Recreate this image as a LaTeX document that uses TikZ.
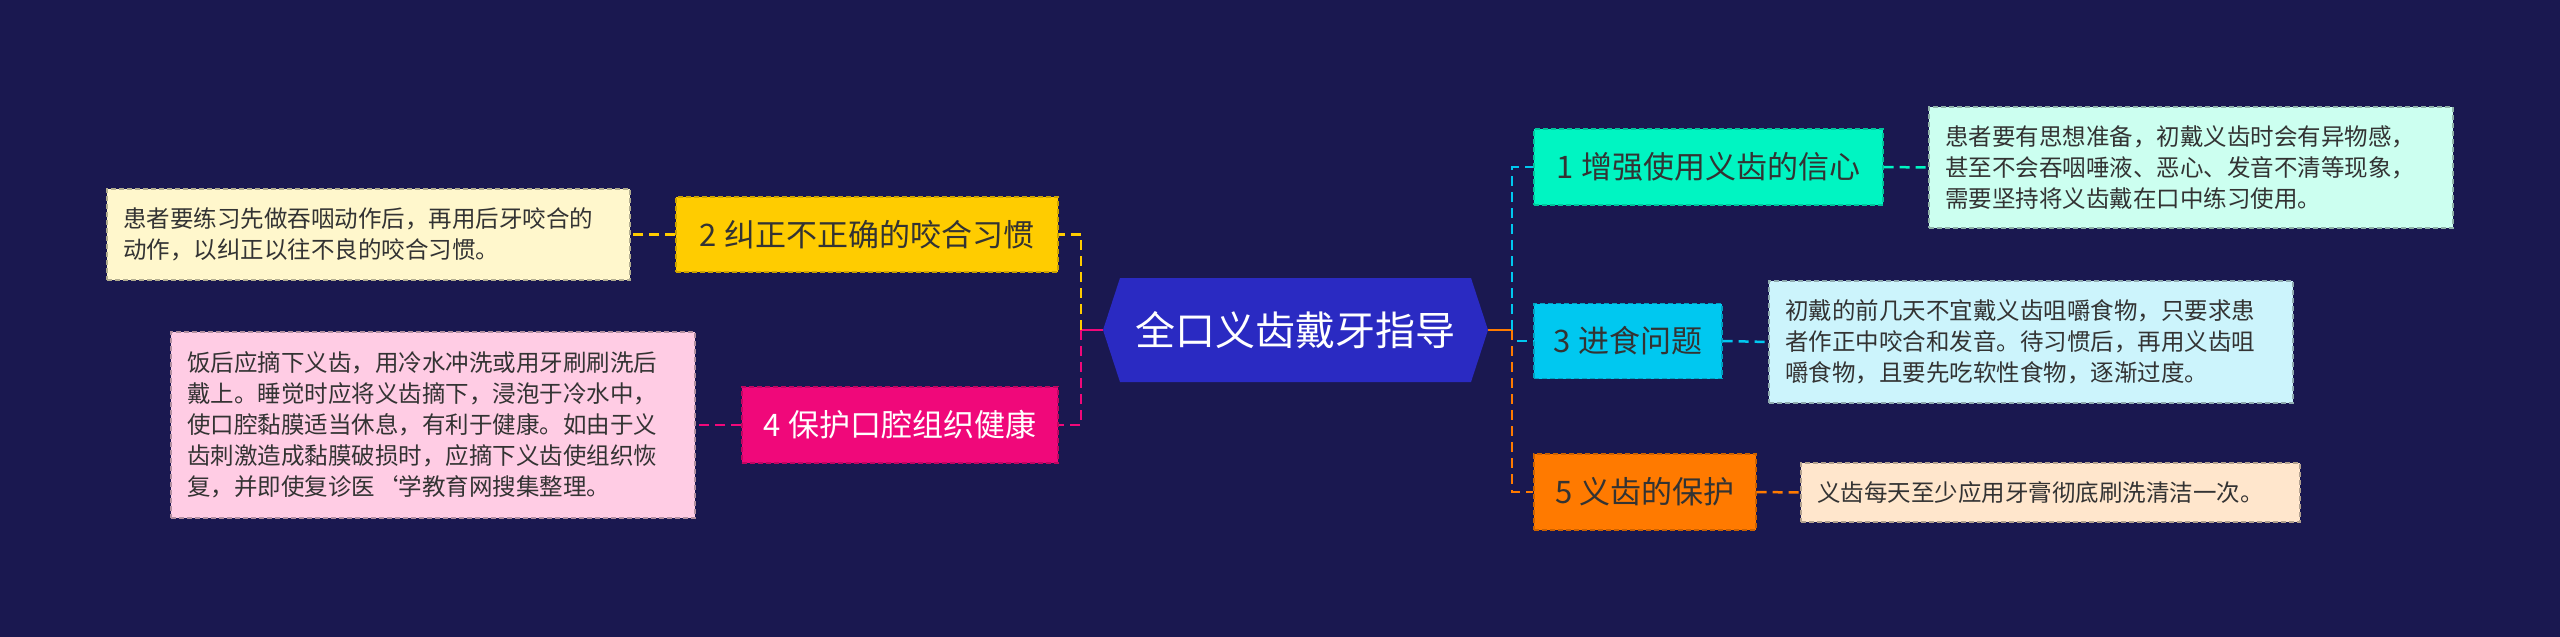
\documentclass[tikz,border=0pt]{standalone}
\usepackage{fontspec}
\setmainfont{Noto Sans CJK SC}
\definecolor{bg}{HTML}{1A1850}
\definecolor{hexc}{HTML}{2A2AC2}
\definecolor{c1}{HTML}{00F5C2}\definecolor{d1}{HTML}{CCFFF0}
\definecolor{c3}{HTML}{00C8F0}\definecolor{d3}{HTML}{CCF4FC}
\definecolor{c5}{HTML}{FF7A00}\definecolor{d5}{HTML}{FFE6CC}
\definecolor{c2}{HTML}{FFCC00}\definecolor{d2}{HTML}{FFF7CC}
\definecolor{c4}{HTML}{F0087A}\definecolor{d4}{HTML}{FFCCE4}
\definecolor{txt}{HTML}{333333}
\begin{document}
\begin{tikzpicture}[x=1pt,y=-1pt,
  topic/.style={draw=#1!80!black,fill=#1,dashed,dash pattern=on 5pt off 3pt,line width=1.2pt,inner sep=0pt,font=\fontsize{31}{36}\selectfont,text=txt},
  detail/.style={fill=#1,draw=#1!70!black,dashed,dash pattern=on 5pt off 3pt,line width=1.2pt,align=left,inner xsep=16pt,inner ysep=0pt,font=\fontsize{23.5}{31}\selectfont,text=txt},
  conn/.style={draw=#1,line width=2.5pt,dashed,dash pattern=on 10pt off 6pt}]
\fill[bg] (0,0) rectangle (2560,637);
\useasboundingbox (0,0) rectangle (2560,637);
% center
\node[minimum width=385pt,minimum height=104pt,inner sep=0pt] (hex) at (1295.5,330) {};
\fill[hexc] (1103,330) -- (1120,278) -- (1471,278) -- (1488,330) -- (1471,382) -- (1120,382) -- cycle;
\node[text=white,font=\fontsize{40}{44}\selectfont] (ht) at (1295.5,330) {全口义齿戴牙指导};
% topics
\node[topic=c1,minimum width=349pt,minimum height=76pt] (b1) at (1708.5,167) {1 增强使用义齿的信心};
\node[topic=c3,minimum width=188pt,minimum height=75pt] (b3) at (1628,341) {3 进食问题};
\node[topic=c5,minimum width=222pt,minimum height=76pt] (b5) at (1645,492) {5 义齿的保护};
\node[topic=c2,minimum width=382pt,minimum height=75pt] (b2) at (867,234.5) {2 纠正不正确的咬合习惯};
\node[topic=c4,minimum width=316pt,minimum height=76pt,text=white] (b4) at (900,425) {4 保护口腔组织健康};
% details
\node[detail=d1,text width=492pt,minimum height=121pt] (e1) at (2191,167.5) {患者要有思想准备，初戴义齿时会有异物感，\\甚至不会吞咽唾液、恶心、发音不清等现象，\\需要坚持将义齿戴在口中练习使用。};
\node[detail=d3,text width=492pt,minimum height=122pt] (e3) at (2031,342) {初戴的前几天不宜戴义齿咀嚼食物，只要求患\\者作正中咬合和发音。待习惯后，再用义齿咀\\嚼食物，且要先吃软性食物，逐渐过度。};
\node[detail=d5,text width=467pt,minimum height=59pt] (e5) at (2050.5,492.5) {义齿每天至少应用牙膏彻底刷洗清洁一次。};
\node[detail=d2,text width=491pt,minimum height=91pt] (e2) at (368.5,234.5) {患者要练习先做吞咽动作后，再用后牙咬合的\\动作，以纠正以往不良的咬合习惯。};
\node[detail=d4,text width=492pt,minimum height=186pt] (e4) at (433,425) {饭后应摘下义齿，用冷水冲洗或用牙刷刷洗后\\戴上。睡觉时应将义齿摘下，浸泡于冷水中，\\使口腔黏膜适当休息，有利于健康。如由于义\\齿刺激造成黏膜破损时，应摘下义齿使组织恢\\复，并即使复诊医`学教育网搜集整理。};
% connectors
\coordinate (L) at (1081,330);
\coordinate (R) at (1512,330);
\draw[c4,line width=2.5pt] (hex.west) -- (L);
\draw[c5,line width=2.5pt] (hex.east) -- (R);
\draw[conn=c2] (L) |- (b2.east);
\draw[conn=c4] (L) |- (b4.east);
\draw[conn=c3] (R) |- (b1.west);
\draw[conn=c3] (R) |- (b3.west);
\draw[conn=c5] (R) |- (b5.west);
\draw[conn=c1] (b1.east) -- (e1.west);
\draw[conn=c3] (b3.east) -- (e3.west);
\draw[conn=c5] (b5.east) -- (e5.west);
\draw[conn=c2] (b2.west) -- (e2.east);
\draw[conn=c4] (b4.west) -- (e4.east);
\end{tikzpicture}
\end{document}
